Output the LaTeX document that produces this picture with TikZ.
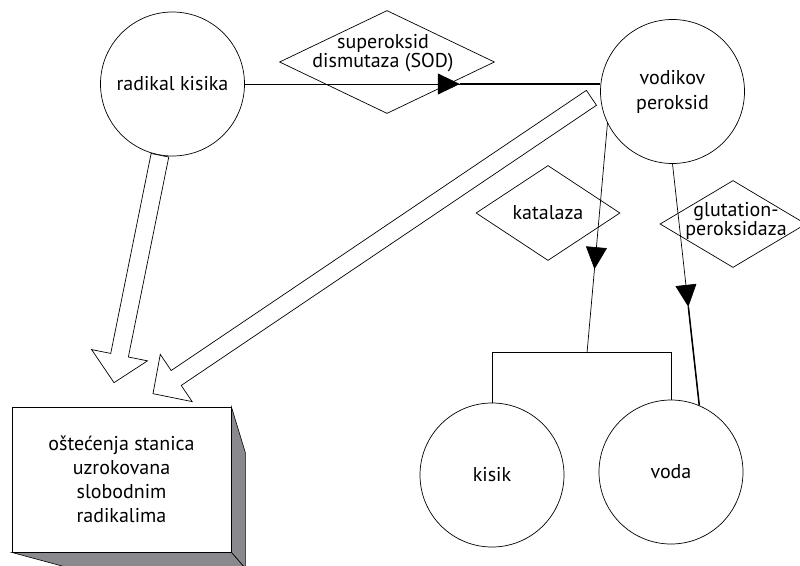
\documentclass[tikz,border=0pt]{standalone}
\usepackage{fontspec}
\setmainfont{PT Sans}
\usetikzlibrary{shapes.geometric,calc,arrows.meta,decorations.markings}
\definecolor{shadowgray}{RGB}{138,138,142}
\tikzset{
  every node/.style={font=\fontsize{20}{19}\selectfont},
  circ/.style={draw,circle,line width=0.7pt,minimum size=144pt,inner sep=0pt,align=center},
  dia/.style={draw,diamond,line width=0.7pt,inner sep=0pt},
  lbl/.style={align=center,inner sep=0pt},
  conn/.style={line width=0.7pt},
  thick seg/.style={line width=1.5pt},
  midarrow/.style={postaction={decorate},decoration={markings,
     mark=at position #1 with {\arrow{Triangle[length=22pt,width=21pt]}}}},
  barrow/.style={draw,line width=0.7pt,fill=white,line join=miter},
  shade3d/.style={draw,fill=shadowgray,line width=0.6pt,line join=miter},
}
\newcommand\myblockarrow[2]{%
  \coordinate (bah) at ($(#2)!28pt!(#1)$);
  \draw[barrow] ($(#1)!9pt!90:(#2)$) -- ($(bah)!9pt!90:(#2)$) -- ($(bah)!28.5pt!90:(#2)$)
     -- (#2) -- ($(bah)!28.5pt!-90:(#2)$) -- ($(bah)!9pt!-90:(#2)$) -- ($(#1)!9pt!-90:(#2)$) -- cycle;}
\begin{document}
\begin{tikzpicture}[x=1pt,y=-1pt]
\useasboundingbox (0,0) rectangle (800,565);

% circles
\node[circ] (rk) at (172.5,84) {radikal kisika};
\node[circ,font=\fontsize{20}{25}\selectfont] (vp) at (672.5,91.5) {vodikov\\peroksid};
\node[circ] (ki) at (492,475) {kisik};
\node[circ] (vo) at (671,472) {voda};

% diamonds
\node[dia,minimum width=215pt,minimum height=103pt] (sod) at (387,62) {};
\node[lbl] (sodt) at ([shift={(-4,-9)}]sod.center) {superoksid\\dismutaza (SOD)};
\node[dia,minimum width=144pt,minimum height=95pt] (kat) at (548,213) {katalaza};
\node[dia,minimum width=146pt,minimum height=87pt] (glu) at (733,224) {};
\node[lbl] (glut) at ([shift={(3,-3)}]glu.center) {glutation-\\peroksidaza};

% 3D box
\node[draw,line width=0.7pt,minimum width=219pt,minimum height=145pt,inner sep=0pt,align=center] (box) at (121.5,479.5) {};
\draw[shade3d] (box.north east) -- ([shift={(14,46)}]box.north east) -- ([shift={(14,16)}]box.south east) -- (box.south east) -- cycle;
\draw[shade3d] (box.south west) -- (box.south east) -- ([shift={(14,16)}]box.south east) -- ([shift={(59,16)}]box.south west) -- cycle;
\node[draw,fill=white,line width=0.7pt,minimum width=219pt,minimum height=145pt,align=center,font=\fontsize{20}{24}\selectfont] (boxf) at (box.center) {oštećenja stanica\\uzrokovana\\slobodnim\\radikalima};

% top connector
\coordinate (topend) at (rk.east -| vp.west);
\draw[conn,midarrow=0.605] (rk.east) -- (topend);
\draw[thick seg] ($(rk.east)!0.605!(topend)$) -- (topend);

% katalaza connector and bracket
\coordinate (kj) at (587,353);
\draw[conn] (ki.north) -- ++(0,-50) -| (vo.north);
\draw[conn,midarrow=0.635] (vp.-154) -- (kj);

% glutation connector
\draw[conn,midarrow=0.592] (vp.south) -- (vo.67);
\draw[thick seg] ($(vp.south)!0.592!(vo.67)$) -- (vo.67);

% block arrows
\coordinate (a1s) at (rk.-100);
\coordinate (a1e) at ([shift={(-7.5,-24)}]box.north);
\coordinate (a2s) at ([xshift=-9pt]vp.185);
\coordinate (a2e) at ([shift={(31.5,-13)}]box.north);
\myblockarrow{a1s}{a1e}
\myblockarrow{a2s}{a2e}
\end{tikzpicture}
\end{document}
